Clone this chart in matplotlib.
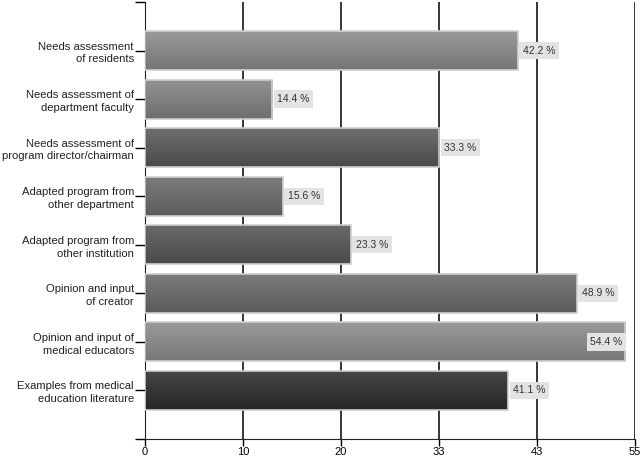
import numpy as np
import matplotlib.pyplot as plt
from matplotlib.colors import to_rgb
from matplotlib.patches import Rectangle

plt.rcParams["font.family"] = ["Liberation Sans", "DejaVu Sans"]

categories = [
    "Needs assessment\nof residents",
    "Needs assessment of\ndepartment faculty",
    "Needs assessment of\nprogram director/chairman",
    "Adapted program from\nother department",
    "Adapted program from\nother institution",
    "Opinion and input\nof creator",
    "Opinion and input of\nmedical educators",
    "Examples from medical\neducation literature",
]
values = [42.2, 14.4, 33.3, 15.6, 23.3, 48.9, 54.4, 41.1]
# gradient (top, bottom) grey for each bar
bar_tops = ["#9a9a9a", "#929292", "#6e6e6e", "#7c7c7c", "#6a6a6a", "#7c7c7c", "#9a9a9a", "#464646"]
bar_bottoms = ["#767676", "#6e6e6e", "#4a4a4a", "#5c5c5c", "#4a4a4a", "#5a5a5a", "#787878", "#262626"]
xmax = 55.5
xtick_labels = ["0", "10", "20", "33", "43", "55"]

fig = plt.figure(figsize=(6.42, 4.57), dpi=100)
ax = fig.add_axes([145 / 642, 18 / 457, 490 / 642, 437 / 457])

xticks = np.linspace(0, xmax, len(xtick_labels))
for xt in xticks[1:]:
    ax.axvline(xt, color="black", lw=1.1, zorder=0)

bar_h = 0.8
for i, (v, c1, c2) in enumerate(zip(values, bar_tops, bar_bottoms)):
    y = i + 1
    top = np.array(to_rgb(c1))
    bot = np.array(to_rgb(c2))
    t = np.linspace(0, 1, 64)[:, None, None]
    grad = top * (1 - t) + bot * t
    ax.imshow(grad, extent=(0, v, y + bar_h / 2, y - bar_h / 2),
              aspect="auto", zorder=2, interpolation="bilinear")
    ax.add_patch(Rectangle((0, y - bar_h / 2), v, bar_h, fill=False,
                           edgecolor="#cfcfcf", lw=1.2, zorder=3))
    label = f"{v} %"
    box = dict(boxstyle="square,pad=0.35", fc="#e3e3e3", ec="none")
    if v > 52:
        ax.text(v - 0.3, y, label, ha="right", va="center", fontsize=7.5,
                color="#333333", zorder=5, bbox=box)
    else:
        ax.text(v + 0.6, y, label, ha="left", va="center", fontsize=7.5,
                color="#333333", zorder=5, bbox=box)

ax.set_xlim(0, xmax)
ax.set_ylim(len(values) + 1, 0)

ax.set_xticks(xticks)
ax.set_xticklabels(xtick_labels, fontsize=8)
ax.set_yticks(range(0, len(values) + 2))
ax.set_yticklabels([""] + categories + [""], fontsize=8.1, color="#222222",
                   linespacing=1.35)
ax.tick_params(axis="x", length=5, width=1, pad=0.5)
ax.tick_params(axis="y", length=7, width=1, pad=1)

for side in ["top", "right"]:
    ax.spines[side].set_visible(False)
ax.spines["left"].set_color("#222222")
ax.spines["bottom"].set_color("#222222")

fig.savefig("out.png", dpi=100)
